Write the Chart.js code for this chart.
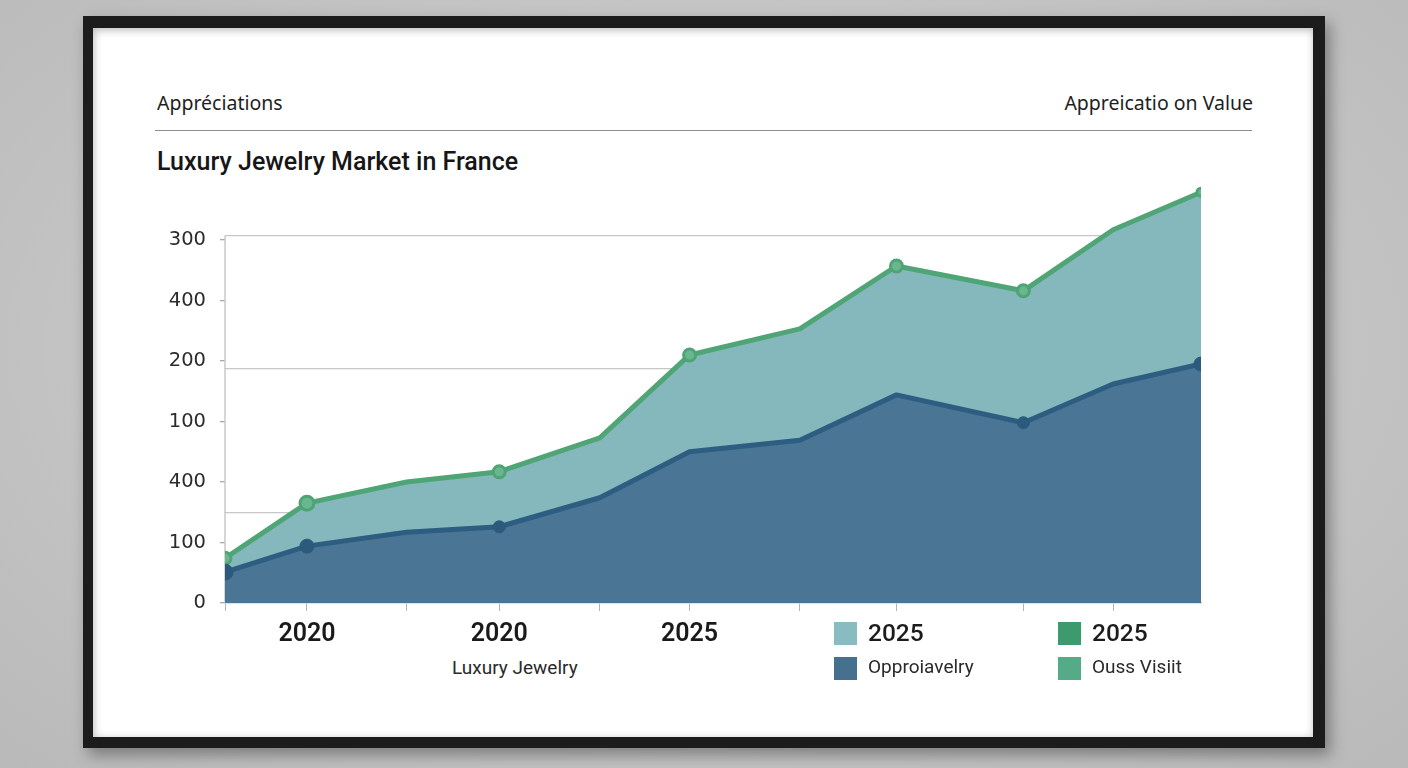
<!DOCTYPE html>
<html>
<head>
<meta charset="utf-8">
<script src="https://cdn.jsdelivr.net/npm/chart.js@4.4.1/dist/chart.umd.min.js"></script>
<style>
  html, body { margin: 0; padding: 0; }
  body { width: 1408px; height: 768px; overflow: hidden; position: relative;
         background: radial-gradient(ellipse at 50% 45%, #d2d2d2 0%, #c4c4c4 60%, #b9b9b9 100%);
         font-family: "Noto Sans", "DejaVu Sans", sans-serif; }
  .frame { position: absolute; left: 83px; top: 16px; width: 1242px; height: 732px;
           background: #1c1c1c; box-shadow: 5px 7px 14px rgba(0,0,0,0.35); }
  .panel { position: absolute; left: 93px; top: 28px; width: 1220px; height: 709px;
           background: #ffffff; box-shadow: inset 1px 2px 9px rgba(0,0,0,0.28); }
  .txt { position: absolute; white-space: nowrap; color: #1e1e1e; }
  .hdr { font-family: "Noto Sans", sans-serif; font-size: 19.5px; top: 89px; }
  .rule { position: absolute; left: 155px; top: 130px; width: 1097px; height: 0; border-top: 1.5px solid #8e8e8e; }
  .title { left: 157px; top: 147px; font-family: "Roboto", sans-serif; font-weight: 500; font-size: 25px; color: #161616; }
  #wrap { position: absolute; left: 100px; top: 150px; width: 1150px; height: 500px; }
  .sq { position: absolute; width: 23px; height: 23px; }
  .lgY { font-family: "Roboto", sans-serif; font-weight: 500; font-size: 24.5px; color: #1c1c1c; }
  .lgT { font-family: "Roboto", sans-serif; font-size: 19px; color: #2a2a2a; }
</style>
</head>
<body>
<div class="frame"></div>
<div class="panel"></div>
<div class="txt hdr" style="left:157px;">Appréciations</div>
<div class="txt hdr" style="right:155px;">Appreicatio on Value</div>
<div class="rule"></div>
<div class="txt title">Luxury Jewelry Market in France</div>
<div id="wrap"><canvas id="c"></canvas></div>

<div class="txt lgT" style="left:452px; top:656px; font-weight:400;">Luxury Jewelry</div>

<div class="sq" style="left:834px; top:622px; background:#88bcc0;"></div>
<div class="txt lgY" style="left:868px; top:618px;">2025</div>
<div class="sq" style="left:834px; top:657px; background:#45718f;"></div>
<div class="txt lgT" style="left:868px; top:655px;">Opproiavelry</div>
<div class="sq" style="left:1058px; top:622px; background:#3d9a6c;"></div>
<div class="txt lgY" style="left:1092px; top:618px;">2025</div>
<div class="sq" style="left:1058px; top:657px; background:#55aa88;"></div>
<div class="txt lgT" style="left:1092px; top:655px;">Ouss Visiit</div>

<script>
// ---- data ----
const periods = [2018.00, 2018.84, 2019.86, 2020.81, 2021.84, 2022.76, 2023.89, 2024.88, 2026.18, 2027.10, 2028.00];
const upperSeries = [74, 165, 200, 217, 273, 410, 453, 557, 516, 617, 679];   // green line (top of band)
const lowerSeries = [51, 94, 117, 126, 174, 250, 269, 344, 298, 362, 395];    // dark blue line
const xTickLabels = ['', '2020', '', '2020', '', '2025', '', '', '', ''];
const yTickValues = [0, 100, 200, 300, 400, 500, 600];
const yTickLabels = ['0', '100', '400', '100', '200', '400', '300'];
const yGridValues = [150, 387, 607];

const toXY = (vals) => vals.map((v, i) => ({ x: periods[i], y: v }));

const yAxisLine = {
  id: 'yAxisLine',
  beforeDatasetsDraw(chart) {
    const { ctx, scales } = chart;
    const x = scales.x.getPixelForValue(periods[0]);
    ctx.save();
    ctx.strokeStyle = '#c9c9c9';
    ctx.lineWidth = 1.5;
    ctx.beginPath();
    ctx.moveTo(x, scales.y.getPixelForValue(607));
    ctx.lineTo(x, scales.y.getPixelForValue(0));
    ctx.stroke();
    ctx.restore();
  }
};

new Chart(document.getElementById('c'), {
  type: 'line',
  data: {
    datasets: [
      {
        label: 'Opproiavelry',
        data: toXY(lowerSeries),
        borderColor: '#2d5d80',
        backgroundColor: '#4a7595',
        borderWidth: 5,
        fill: 'origin',
        tension: 0,
        borderJoinStyle: 'round',
        borderCapStyle: 'round',
        pointRadius: [8, 7, 0, 6, 0, 0, 0, 0, 6, 0, 7],
        pointBackgroundColor: '#2b5a7c',
        pointBorderColor: '#2b5a7c',
        pointBorderWidth: 1
      },
      {
        label: 'Ouss Visiit',
        data: toXY(upperSeries),
        borderColor: '#50a577',
        backgroundColor: '#84b8bc',
        borderWidth: 5,
        fill: '-1',
        tension: 0,
        borderJoinStyle: 'round',
        borderCapStyle: 'round',
        pointRadius: [6, 7, 0, 6, 0, 6, 0, 6, 6, 0, 4],
        pointBackgroundColor: '#6ab68e',
        pointBorderColor: '#4fa476',
        pointBorderWidth: 3
      }
    ]
  },
  plugins: [yAxisLine],
  options: {
    responsive: true,
    maintainAspectRatio: false,
    animation: false,
    layout: { padding: { top: 29.5, right: 49, left: 0, bottom: 0 } },
    plugins: { legend: { display: false }, tooltip: { enabled: false } },
    scales: {
      x: {
        type: 'linear',
        min: periods[0],
        max: periods[periods.length - 1],
        afterBuildTicks: (s) => { s.ticks = periods.slice(0, -1).map(v => ({ value: v })); },
        afterFit: (s) => { s.height = 47; },
        border: { display: true, color: '#c4c4c4', width: 1.5 },
        grid: { drawOnChartArea: false, drawTicks: true, tickLength: 8, color: '#b5b5b5', tickColor: '#b5b5b5' },
        ticks: {
          autoSkip: false, maxRotation: 0, padding: 9,
          color: '#1a1a1a',
          font: { family: '"Roboto", sans-serif', size: 25, weight: 600 },
          callback: (v, i) => xTickLabels[i] || ''
        }
      },
      y: {
        type: 'linear',
        min: 0,
        max: 700,
        z: 1,
        afterBuildTicks: (s) => {
          const vals = [...new Set([...yTickValues, ...yGridValues])].sort((a, b) => a - b);
          s.ticks = vals.map(v => ({ value: v }));
        },
        afterFit: (s) => { s.width = 125; },
        border: { display: false },
        grid: {
          drawTicks: true,
          tickLength: 5,
          lineWidth: 1.3,
          color: (ctx) => (ctx.tick && yGridValues.includes(ctx.tick.value)) ? 'rgba(130,130,130,0.45)' : 'rgba(0,0,0,0)',
          tickColor: (ctx) => (ctx.tick && yTickValues.includes(ctx.tick.value)) ? '#a9a9a9' : 'rgba(0,0,0,0)'
        },
        ticks: {
          padding: 14,
          color: '#2b2b2b',
          font: { family: '"DejaVu Sans", sans-serif', size: 19.5 },
          callback: (v) => { const k = yTickValues.indexOf(v); return k >= 0 ? yTickLabels[k] : ''; }
        }
      }
    }
  }
});
</script>
</body>
</html>
